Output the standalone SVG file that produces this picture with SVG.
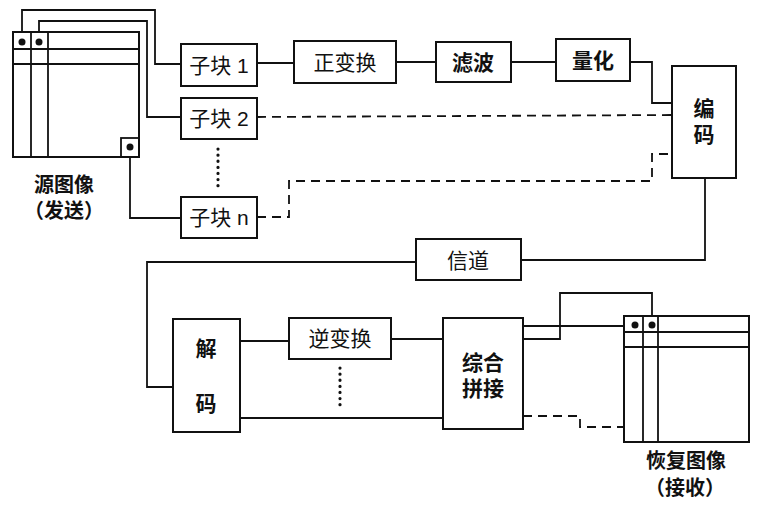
<svg xmlns="http://www.w3.org/2000/svg" width="761" height="505" viewBox="0 0 761 505">
<style>
.b{fill:#fff;stroke:#111;stroke-width:2}
.l{fill:none;stroke:#111;stroke-width:1.8}
.d{fill:none;stroke:#111;stroke-width:1.8;stroke-dasharray:9,6}
.dot{fill:none;stroke:#111;stroke-width:3.2;stroke-linecap:round;stroke-dasharray:0.1,6}
.t{font-family:"Liberation Sans","Noto Sans CJK SC",sans-serif;font-size:21px;fill:#111;text-anchor:middle;dominant-baseline:central}
.tb{font-weight:bold}
.lab{font-size:20px}
</style>
<rect width="761" height="505" fill="#fff"/>
<g id="connectors">
<polyline class="l" points="22,42 22,10 155,10 155,64 181,64"/>
<polyline class="l" points="39,42 39,21 147,21 147,117 181,117"/>
<polyline class="l" points="130,147 130,218 181,218"/>
<line class="l" x1="257" y1="63" x2="294" y2="63"/>
<line class="l" x1="396" y1="62" x2="436" y2="62"/>
<line class="l" x1="511" y1="62" x2="556" y2="62"/>
<polyline class="l" points="630,62 652,62 652,103 672,103"/>
<line class="d" x1="257" y1="117" x2="672" y2="115"/>
<polyline class="d" points="257,217 289,217 289,181 652,181 652,154 672,154"/>
<line class="dot" x1="218" y1="149" x2="218" y2="191"/>
<polyline class="l" points="705,178 705,260 521,260"/>
<polyline class="l" points="416,262 147,262 147,387 173,387"/>
<line class="l" x1="240" y1="341" x2="289" y2="341"/>
<line class="l" x1="391" y1="339" x2="443" y2="339"/>
<line class="l" x1="240" y1="418" x2="443" y2="418"/>
<line class="dot" x1="340" y1="368" x2="340" y2="410"/>
<line class="l" x1="523" y1="326" x2="635" y2="326"/>
<polyline class="l" points="523,339 560,339 560,293 652,293 652,325"/>
<polyline class="d" points="523,416 580,416 580,427 624,427"/>
</g>
<g id="source-image">
<rect class="b" x="13" y="32" width="126" height="125"/>
<line class="l" x1="31" y1="32" x2="31" y2="157"/>
<line class="l" x1="48" y1="32" x2="48" y2="157"/>
<line class="l" x1="13" y1="49" x2="139" y2="49"/>
<line class="l" x1="13" y1="64" x2="139" y2="64"/>
<rect class="l" x="121" y="138" width="18" height="19"/>
<circle cx="22" cy="42" r="3.5" fill="#111"/>
<circle cx="39" cy="42" r="3.5" fill="#111"/>
<circle cx="130" cy="147" r="3.5" fill="#111"/>
<text class="t tb lab"><tspan x="64" y="185">源图像</tspan><tspan x="64" y="211">（发送）</tspan></text>
</g>
<g id="sub1"><rect class="b" x="181" y="44" width="76" height="42"/><text class="t" x="219" y="65">子块 1</text></g>
<g id="sub2"><rect class="b" x="181" y="98" width="76" height="41"/><text class="t" x="219" y="118">子块 2</text></g>
<g id="subn"><rect class="b" x="181" y="197" width="76" height="41"/><text class="t" x="219" y="217">子块 n</text></g>
<g id="fwd"><rect class="b" x="294" y="41" width="102" height="42"/><text class="t" x="345" y="62">正变换</text></g>
<g id="filter"><rect class="b" x="436" y="42" width="75" height="40"/><text class="t tb" x="473" y="62">滤波</text></g>
<g id="quant"><rect class="b" x="556" y="39" width="74" height="42"/><text class="t tb" x="593" y="60">量化</text></g>
<g id="encode"><rect class="b" x="672" y="66" width="64" height="112"/><text class="t tb"><tspan x="704" y="108">编</tspan><tspan x="704" y="134">码</tspan></text></g>
<g id="channel"><rect class="b" x="416" y="239" width="105" height="41"/><text class="t" x="468" y="260">信道</text></g>
<g id="decode"><rect class="b" x="173" y="319" width="67" height="113"/><text class="t tb"><tspan x="206" y="348">解</tspan><tspan x="206" y="403">码</tspan></text></g>
<g id="inv"><rect class="b" x="289" y="318" width="102" height="41"/><text class="t" x="340" y="338">逆变换</text></g>
<g id="merge"><rect class="b" x="443" y="318" width="80" height="111"/><text class="t tb"><tspan x="483" y="362">综合</tspan><tspan x="483" y="388">拼接</tspan></text></g>
<g id="recovered-image">
<rect class="b" x="624" y="316" width="125" height="126"/>
<line class="l" x1="643" y1="316" x2="643" y2="442"/>
<line class="l" x1="658" y1="316" x2="658" y2="442"/>
<line class="l" x1="624" y1="332" x2="749" y2="332"/>
<line class="l" x1="624" y1="347" x2="749" y2="347"/>
<circle cx="635" cy="325" r="3.5" fill="#111"/>
<circle cx="652" cy="325" r="3.5" fill="#111"/>
<text class="t tb lab"><tspan x="686" y="461">恢复图像</tspan><tspan x="685" y="488">（接收）</tspan></text>
</g>
</svg>
